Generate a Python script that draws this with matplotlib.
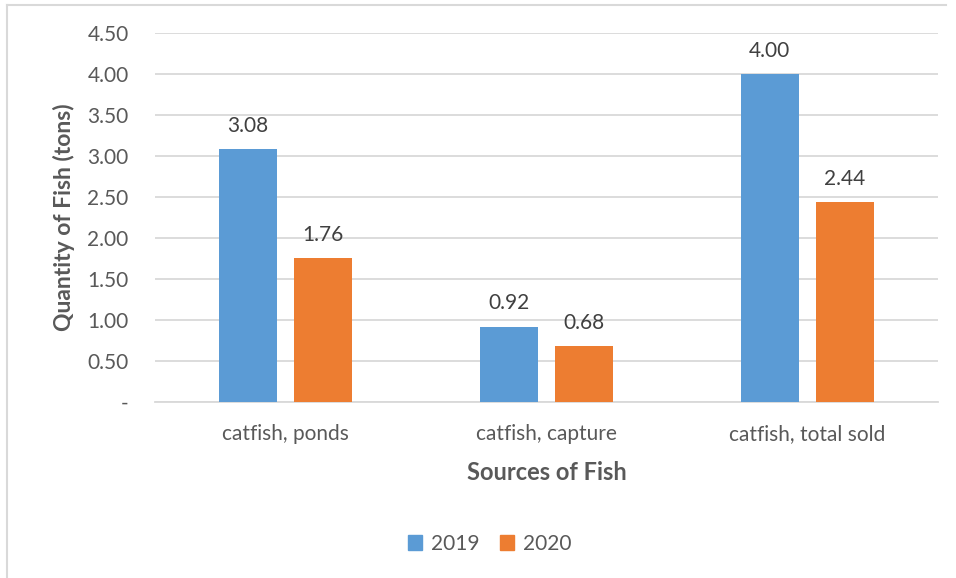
import matplotlib
matplotlib.use("Agg")
import matplotlib.pyplot as plt
from matplotlib.lines import Line2D
from matplotlib.patches import Patch
import numpy as np

categories = ["catfish, ponds", "catfish, capture", "catfish, total sold"]
years = ["2019", "2020"]
qty_2019 = [3.08, 0.92, 4.00]
qty_2020 = [1.76, 0.68, 2.44]
y_ticks = [0, 0.5, 1.0, 1.5, 2.0, 2.5, 3.0, 3.5, 4.0, 4.5]

BLUE = "#5B9BD5"
ORANGE = "#ED7D31"
TEXT = "#595959"
GRID = "#D9D9D9"

plt.rcParams["font.family"] = ["Lato", "DejaVu Sans"]

fig = plt.figure(figsize=(9.56, 5.78), dpi=100)
ax = fig.add_axes([0.1621, 0.3045, 0.819, 0.6384])

x = np.arange(len(categories))
width = 0.222
offset = 0.144
series = [(qty_2019, BLUE, -offset), (qty_2020, ORANGE, offset)]
for vals, color, dx in series:
    bars = ax.bar(x + dx, vals, width, color=color, zorder=3)
    for b, v in zip(bars, vals):
        ax.text(b.get_x() + b.get_width() / 2, v + 0.16, f"{v:.2f}",
                ha="center", va="bottom", fontsize=15, color="#404040")

ax.set_xlim(-0.5, len(categories) - 0.5)
ax.set_ylim(0, 4.5)
ax.set_yticks(y_ticks)
ax.set_yticklabels(["-" if t == 0 else f"{t:.2f}" for t in y_ticks])
ax.set_xticks(x)
ax.set_xticklabels(categories)
ax.tick_params(axis="both", length=0, labelsize=15, labelcolor=TEXT)
ax.tick_params(axis="y", pad=19)
ax.tick_params(axis="x", pad=16)
ax.grid(axis="y", color=GRID, linewidth=1.3, zorder=0)
for side in ["top", "right", "left"]:
    ax.spines[side].set_visible(False)
ax.spines["bottom"].set_color(GRID)
ax.spines["bottom"].set_linewidth(1.3)

ax.set_xlabel("Sources of Fish", fontsize=17, fontweight="bold", color=TEXT, labelpad=12)
ax.set_ylabel("Quantity of Fish (tons)", fontsize=16.5, fontweight="bold", color=TEXT, labelpad=9)

handles = [Patch(color=BLUE), Patch(color=ORANGE)]
fig.legend(handles, years, loc="center", bbox_to_anchor=(0.512, 0.059), ncol=2,
           frameon=False, fontsize=15, labelcolor=TEXT, handlelength=0.7,
           handleheight=0.7, handletextpad=0.4, columnspacing=1.0)

# chart frame edges
fig.add_artist(Line2D([0.0073, 0.0073], [0, 0.9913], color=GRID, linewidth=1.5))
fig.add_artist(Line2D([0.0073, 0.99], [0.9913, 0.9913], color=GRID, linewidth=1.5))

fig.savefig("out.png", dpi=100)
